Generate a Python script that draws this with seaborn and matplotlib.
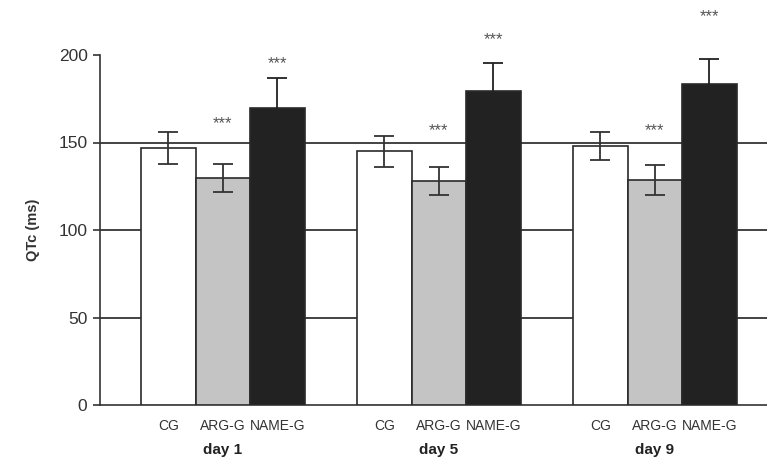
import matplotlib
matplotlib.use("Agg")
import matplotlib.pyplot as plt
import matplotlib.transforms as mtransforms
import seaborn as sns
import pandas as pd

days = ["day 1", "day 5", "day 9"]
groups = ["CG", "ARG-G", "NAME-G"]
qtc_cg = [147, 145, 148]
qtc_arg = [129.5, 128, 128.5]
qtc_name = [170, 179.5, 183.5]
err_cg = [9, 9, 8]
err_arg = [8, 8, 8.5]
err_name = [17, 16, 14.5]
# significance markers: y positions
star_arg_y = [161, 157, 157]
star_name_y = [195, 209, 222]
yticks = [0, 50, 100, 150, 200]

sns.set_theme(style="white")
plt.rcParams["font.family"] = ["Liberation Sans", "DejaVu Sans"]

rows = []
for d_i, d in enumerate(days):
    rows.append({"day": d, "group": "CG", "qtc": qtc_cg[d_i]})
    rows.append({"day": d, "group": "ARG-G", "qtc": qtc_arg[d_i]})
    rows.append({"day": d, "group": "NAME-G", "qtc": qtc_name[d_i]})
df = pd.DataFrame(rows)

fig = plt.figure(figsize=(7.67, 4.66), dpi=100)
ax = fig.add_axes([100 / 767, 1 - 405 / 466, 667 / 767, 350 / 466])

palette = {"CG": "#ffffff", "ARG-G": "#c4c4c4", "NAME-G": "#222222"}
sns.barplot(data=df, x="day", y="qtc", hue="group", order=days, hue_order=groups,
            palette=palette, errorbar=None, width=0.757, dodge=True,
            edgecolor="#2a2a2a", linewidth=1.2, legend=False, ax=ax, zorder=3)

for v in [50, 100, 150]:
    ax.axhline(v, color="#222222", lw=1.2, zorder=1)

bars = list(ax.patches)
centers = {}
i = 0
for g in groups:
    for d_i in range(len(days)):
        p = bars[i]
        centers[(g, d_i)] = p.get_x() + p.get_width() / 2
        i += 1

errs = {"CG": err_cg, "ARG-G": err_arg, "NAME-G": err_name}
vals = {"CG": qtc_cg, "ARG-G": qtc_arg, "NAME-G": qtc_name}
for g in groups:
    ec = "#222222" if g == "NAME-G" else "#333333"
    for d_i in range(len(days)):
        ax.errorbar(centers[(g, d_i)], vals[g][d_i], yerr=errs[g][d_i], fmt="none",
                    ecolor=ec, elinewidth=1.3, capsize=7, capthick=1.3, zorder=4)

for d_i in range(len(days)):
    ax.text(centers[("ARG-G", d_i)], star_arg_y[d_i], "***", ha="center", va="center",
            fontsize=12, color="#555555", clip_on=False)
    ax.text(centers[("NAME-G", d_i)], star_name_y[d_i], "***", ha="center", va="center",
            fontsize=12, color="#555555", clip_on=False)

ax.set_xlim(-0.569, 2.519)
ax.set_ylim(0, 200)
ax.set_yticks(yticks)
ax.set_yticklabels([str(t) for t in yticks], fontsize=12.5, color="#333333")
ax.tick_params(axis="y", direction="out", length=5, width=1.2, color="#333333", left=True, pad=4)

xt = []
xl = []
for d_i in range(len(days)):
    for g in groups:
        xt.append(centers[(g, d_i)])
        xl.append(g)
ax.set_xticks(xt)
ax.set_xticklabels(xl, fontsize=10, color="#333333")
ax.tick_params(axis="x", length=0, pad=10)
ax.set_xlabel("")

trans = mtransforms.blended_transform_factory(ax.transData, ax.transAxes)
for d_i, d in enumerate(days):
    ax.text(centers[("ARG-G", d_i)], -45 / 350, d, transform=trans, ha="center", va="center",
            fontsize=11, fontweight="bold", color="#222222")

ax.set_ylabel("QTc (ms)", fontsize=10.5, fontweight="bold", color="#333333", labelpad=13)

for s in ["top", "right"]:
    ax.spines[s].set_visible(False)
for s in ["left", "bottom"]:
    ax.spines[s].set_color("#333333")
    ax.spines[s].set_linewidth(1.2)

fig.savefig("out.png", dpi=100)
